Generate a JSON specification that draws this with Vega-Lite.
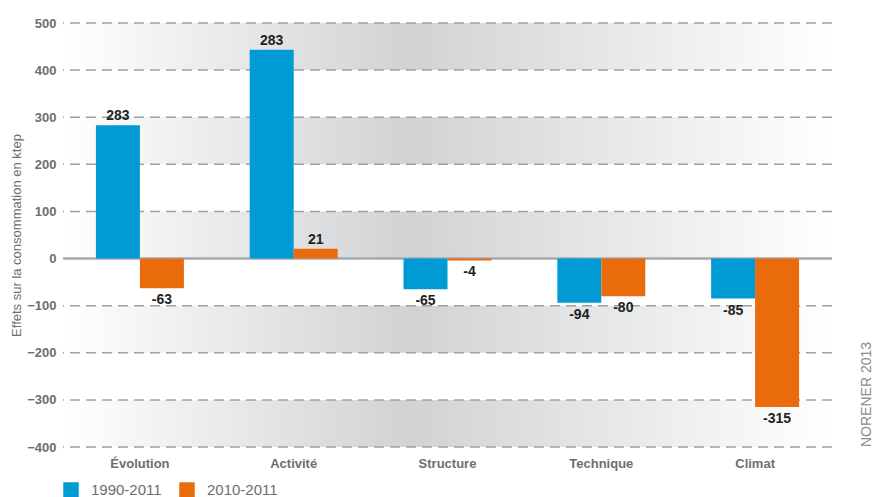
{
  "$schema": "https://vega.github.io/schema/vega-lite/v6.json",
  "width": 769,
  "height": 424,
  "autosize": {"type": "none"},
  "padding": {"left": 63, "top": 23, "right": 44, "bottom": 50},
  "background": "white",
  "config": {"view": {"stroke": null}, "font": "Liberation Sans"},
  "title": {"text": "NORENER 2013", "orient": "right", "anchor": "end", "angle": -90, "align": "left", "baseline": "middle", "fontSize": 14, "fontWeight": "normal", "color": "#8a8c8e", "offset": 20, "frame": "group"},
  "datasets": {
    "bars": [
      {"cat": "Évolution", "series": "1990-2011", "value": 283, "label": "283"},
      {"cat": "Évolution", "series": "2010-2011", "value": -63, "label": "-63"},
      {"cat": "Activité", "series": "1990-2011", "value": 443, "label": "283"},
      {"cat": "Activité", "series": "2010-2011", "value": 21, "label": "21"},
      {"cat": "Structure", "series": "1990-2011", "value": -65, "label": "-65"},
      {"cat": "Structure", "series": "2010-2011", "value": -4, "label": "-4"},
      {"cat": "Technique", "series": "1990-2011", "value": -94, "label": "-94"},
      {"cat": "Technique", "series": "2010-2011", "value": -80, "label": "-80"},
      {"cat": "Climat", "series": "1990-2011", "value": -85, "label": "-85"},
      {"cat": "Climat", "series": "2010-2011", "value": -315, "label": "-315"}
    ],
    "bands": [
      {"lo": 400, "hi": 500},
      {"lo": 200, "hi": 300},
      {"lo": 0, "hi": 100},
      {"lo": -200, "hi": -100},
      {"lo": -400, "hi": -300}
    ],
    "grid": [
      {"v": 500}, {"v": 400}, {"v": 300}, {"v": 200}, {"v": 100},
      {"v": -100}, {"v": -200}, {"v": -300}, {"v": -400}
    ],
    "zero": [{"v": 0}]
  },
  "layer": [
    {
      "data": {"name": "bands"},
      "mark": {"type": "rect", "color": {"gradient": "linear", "x1": 0, "x2": 1, "y1": 0, "y2": 0, "stops": [{"offset": 0, "color": "#ffffff"}, {"offset": 0.45, "color": "#d1d2d4"}, {"offset": 1, "color": "#ffffff"}]}},
      "encoding": {
        "y": {"field": "lo", "type": "quantitative", "title": "Effets sur la consommation en ktep",
          "scale": {"domain": [-400, 500], "nice": false},
          "axis": {"values": [-400, -300, -200, -100, 0, 100, 200, 300, 400, 500], "grid": false, "domain": false, "ticks": false, "labelPadding": 7, "labelFontWeight": "bold", "labelFontSize": 13, "labelColor": "#6d6e70", "titleFontSize": 13, "titleFontWeight": "normal", "titleColor": "#6d6e70", "titlePadding": 3}},
        "y2": {"field": "hi"}
      }
    },
    {
      "data": {"name": "grid"},
      "mark": {"type": "rule", "color": "#a0a0a0", "strokeWidth": 1.5, "strokeDash": [10, 6]},
      "encoding": {"y": {"field": "v", "type": "quantitative", "title": "Effets sur la consommation en ktep"}}
    },
    {
      "data": {"name": "zero"},
      "mark": {"type": "rule", "color": "#a7a9ac", "strokeWidth": 2.5},
      "encoding": {"y": {"field": "v", "type": "quantitative", "title": "Effets sur la consommation en ktep"}}
    },
    {
      "data": {"name": "bars"},
      "mark": {"type": "bar"},
      "encoding": {
        "x": {"field": "cat", "type": "nominal", "sort": null, "scale": {"paddingInner": 0.428, "paddingOuter": 0.214},
          "axis": {"title": null, "domain": false, "ticks": false, "labelAngle": 0, "labelFontWeight": "bold", "labelFontSize": 13, "labelColor": "#6d6e70", "labelPadding": 10}},
        "xOffset": {"field": "series", "type": "nominal", "sort": null, "scale": {"paddingInner": 0, "paddingOuter": 0}},
        "y": {"field": "value", "type": "quantitative", "title": "Effets sur la consommation en ktep"},
        "color": {"field": "series", "type": "nominal", "scale": {"range": ["#009bd5", "#e96b0c"]},
          "legend": {"orient": "bottom", "direction": "horizontal", "title": null, "symbolType": "square", "symbolSize": 240, "symbolStrokeWidth": 0, "symbolOpacity": 1, "labelFontSize": 15, "labelColor": "#6d6e70", "labelOffset": 12, "columnPadding": 17, "offset": 12, "padding": 0}}
      }
    },
    {
      "data": {"name": "bars"},
      "transform": [{"filter": "datum.value >= 0"}],
      "mark": {"type": "text", "baseline": "alphabetic", "dy": -5, "fontWeight": "bold", "fontSize": 14, "color": "#231f20"},
      "encoding": {
        "x": {"field": "cat", "type": "nominal", "sort": null},
        "xOffset": {"field": "series", "type": "nominal", "sort": null},
        "y": {"field": "value", "type": "quantitative", "title": "Effets sur la consommation en ktep"},
        "text": {"field": "label"}
      }
    },
    {
      "data": {"name": "bars"},
      "transform": [{"filter": "datum.value < 0"}],
      "mark": {"type": "text", "baseline": "top", "dy": 5, "fontWeight": "bold", "fontSize": 14, "color": "#231f20"},
      "encoding": {
        "x": {"field": "cat", "type": "nominal", "sort": null},
        "xOffset": {"field": "series", "type": "nominal", "sort": null},
        "y": {"field": "value", "type": "quantitative", "title": "Effets sur la consommation en ktep"},
        "text": {"field": "label"}
      }
    }
  ]
}
